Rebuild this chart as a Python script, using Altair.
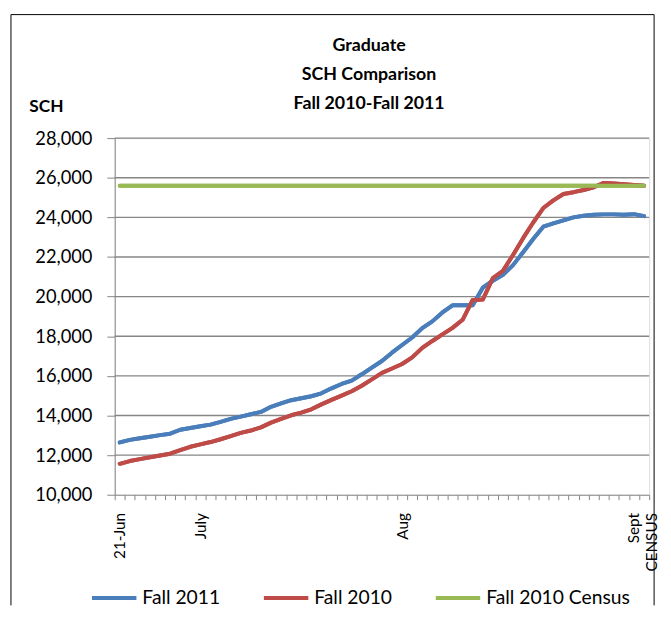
import altair as alt
import pandas as pd

# ---- data ----
n_points = 53
x_tick_labels = {0: ["21-Jun"], 8: ["July"], 28: ["Aug"], 51: ["Sept", "CENSUS"]}
series_names = ["Fall 2011", "Fall 2010", "Fall 2010 Census"]
series_colors = ["#4A7EBB", "#BE4B48", "#98B954"]

fall_2011 = [12640, 12770, 12850, 12930, 13010, 13080, 13280, 13370, 13460, 13540,
             13680, 13830, 13940, 14060, 14180, 14440, 14610, 14770, 14870, 14970,
             15120, 15370, 15590, 15760, 16080, 16420, 16750, 17170, 17560, 17935,
             18410, 18750, 19200, 19560, 19560, 19560, 20450, 20800, 21100, 21590,
             22240, 22910, 23530, 23700, 23850, 24000, 24080, 24130, 24150, 24150,
             24130, 24160, 24060]
fall_2010 = [11560, 11700, 11800, 11890, 11980, 12070, 12250, 12420, 12540, 12660,
             12800, 12960, 13120, 13240, 13400, 13640, 13830, 14010, 14140, 14310,
             14560, 14790, 15000, 15220, 15500, 15820, 16150, 16370, 16600, 16930,
             17410, 17760, 18090, 18420, 18830, 19830, 19850, 20930, 21300, 22100,
             22950, 23740, 24470, 24860, 25180, 25270, 25380, 25520, 25740, 25710,
             25670, 25630, 25590]
census_2010 = 25590

y_ticks = [10000, 12000, 14000, 16000, 18000, 20000, 22000, 24000, 26000, 28000]

rows = []
for i in range(n_points):
    rows.append({"pos": i + 0.5, "series": "Fall 2011", "sch": fall_2011[i]})
for i in range(n_points):
    rows.append({"pos": i + 0.5, "series": "Fall 2010", "sch": fall_2010[i]})
for i in range(n_points):
    rows.append({"pos": i + 0.5, "series": "Fall 2010 Census", "sch": census_2010})
df = pd.DataFrame(rows)
grid_df = pd.DataFrame({"level": y_ticks[1:]})


def js_label(i):
    parts = x_tick_labels.get(i, [""])
    return "[" + ",".join("'" + p + "'" for p in parts) + "]"


label_array = "[" + ",".join(js_label(i) for i in range(n_points + 1)) + "]"

FONT = "Lato"
GRAY = "#868686"
W, H = 541, 361

x_enc = alt.X("pos:Q",
              scale=alt.Scale(domain=[0, n_points], nice=False, zero=False),
              axis=alt.Axis(values=list(range(n_points + 1)), labelExpr=label_array + "[datum.value]",
                            labelAngle=-90, labelOffset=W / n_points / 2, labelOverlap=False,
                            labelFlush=False, labelBound=False, grid=False, tickSize=5,
                            tickColor=GRAY, domainColor=GRAY, labelPadding=13, labelLineHeight=18,
                            labelFontSize=15.5, labelFont=FONT, labelColor="#000000", title=None))
y_scale = alt.Scale(domain=[10000, 28000], nice=False, zero=False)
y_axis = alt.Axis(values=y_ticks, format=",.0f", grid=False,
                  tickColor=GRAY, domainColor=GRAY, tickSize=8, labelPadding=15,
                  labelFontSize=18.5, labelFont=FONT, labelColor="#000000",
                  title="SCH", titleAngle=0, titleAlign="left", titleBaseline="alphabetic",
                  titleX=-87, titleY=-27, titleFont=FONT, titleFontSize=17.5,
                  titleFontWeight="bold", titleColor="#000000")
color_enc = alt.Color("series:N",
                      scale=alt.Scale(domain=series_names, range=series_colors),
                      legend=alt.Legend(orient="none", legendX=-25, legendY=441, direction="horizontal",
                                        symbolType="stroke", symbolSize=2025, symbolStrokeWidth=4,
                                        labelFontSize=19.5, labelFont=FONT, labelColor="#000000",
                                        columnPadding=36, labelOffset=4, title=None))

# base layer: carries the legend and the axes
lines = alt.Chart(df).mark_line(strokeWidth=4, strokeJoin="round", strokeCap="round").encode(
    x=x_enc, y=alt.Y("sch:Q", scale=y_scale, axis=y_axis), color=color_enc)

# horizontal gridlines at the y tick values (no axis of their own)
grid = alt.Chart(grid_df).mark_rule(color=GRAY, strokeWidth=1.4).encode(
    y=alt.Y("level:Q", scale=y_scale, axis=None))

# each series redrawn above the gridlines
series_layers = []
for name, col in zip(series_names, series_colors):
    series_layers.append(
        alt.Chart(df).transform_filter(alt.datum.series == name)
        .mark_line(color=col, strokeWidth=4, strokeJoin="round", strokeCap="round")
        .encode(x=alt.X("pos:Q", scale=alt.Scale(domain=[0, n_points], nice=False, zero=False), axis=None),
                y=alt.Y("sch:Q", scale=y_scale, axis=None))
    )

frame_df = pd.DataFrame({"k": [0]})
frame_left = alt.Chart(frame_df).mark_rule(color="#000000", strokeWidth=1).encode(
    x=alt.value(-105), y=alt.value(-125), y2=alt.value(473))
frame_right = alt.Chart(frame_df).mark_rule(color="#000000", strokeWidth=1).encode(
    x=alt.value(546), y=alt.value(-125), y2=alt.value(473))
frame_top = alt.Chart(frame_df).mark_rule(color="#000000", strokeWidth=1).encode(
    x=alt.value(-105), x2=alt.value(546), y=alt.value(-125))

chart = alt.layer(lines, grid, *series_layers, frame_left, frame_right, frame_top).properties(
    width=W, height=H,
    padding={"left": 2, "top": 2, "right": 0, "bottom": 0},
    title=alt.TitleParams(["Graduate", "SCH Comparison", "Fall 2010-Fall 2011"],
                          font=FONT, fontSize=18, fontWeight="bold", color="#000000",
                          lineHeight=29.5, anchor="middle", frame="group", dx=-13, offset=-100),
).resolve_axis(x="independent", y="independent")

chart.save("out.html", embed_options={"renderer": "svg", "actions": False})
